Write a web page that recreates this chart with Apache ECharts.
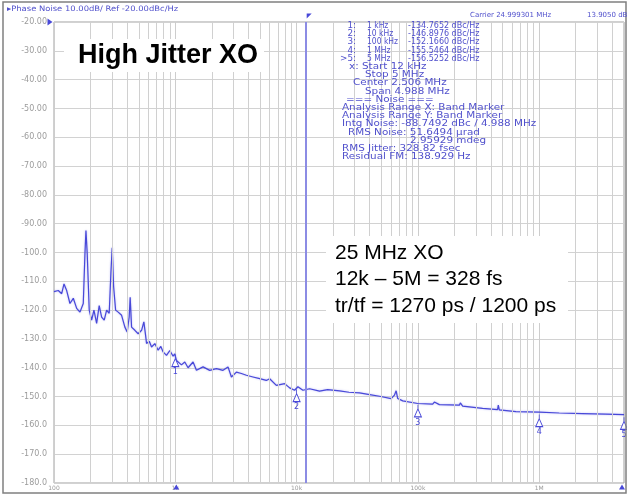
<!DOCTYPE html>
<html>
<head>
<meta charset="utf-8">
<script src="https://cdn.jsdelivr.net/npm/echarts@6/dist/echarts.min.js"></script>
<style>
html,body{margin:0;padding:0;background:#fff;}
#chart{width:627px;height:495px;}
</style>
</head>
<body>
<div id="chart"></div>
<script>
// ---- data ----
const freqHz = [100, 108.5, 115.7, 120.9, 127.2, 135.4, 144.2, 153.8, 163.7, 174.3,
  179.9, 183.4, 187.9, 195.2, 204.3, 213.4, 224.6, 235.9, 247, 259.4,
  271.5, 285.2, 294.5, 301.9, 310, 322, 338.2, 360.8, 384, 401.2,
  416.7, 424.6, 436, 464.2, 494.1, 527.2, 550.6, 568.6, 579.4, 610,
  637, 678.2, 721.9, 760, 793.6, 846.3, 901, 959, 990.6, 1023,
  1054, 1124, 1197, 1274, 1401, 1494, 1693, 1923, 2183, 2474,
  2720, 2901, 3190, 3506, 3855, 4369, 4961, 5630, 5996, 6808,
  7965, 8758, 9627, 10250, 11270, 12790, 15460, 18000, 22590, 27000,
  33000, 40000, 48220, 60180, 64060, 66150, 68190, 74980, 99630, 132400,
  136700, 150300, 219600, 223800, 233700, 341500, 453800, 459900, 468700, 643100,
  1000000, 1461000, 2272000, 3539000, 5000000];
const phaseNoise = [-113.6, -113.2, -114.3, -110.9, -113.2, -117.7, -115.9, -119.4, -120.7, -117.7,
  -100.4, -92.4, -100.4, -120.0, -123.5, -120.0, -124.6, -118.4, -122.4, -123.5,
  -120.0, -121.1, -107.0, -98.4, -111.8, -120.0, -120.7, -121.8, -125.9, -127.6,
  -122.4, -115.5, -125.9, -127.0, -128.2, -127.0, -124.1, -128.7, -131.6, -130.8,
  -132.8, -131.6, -133.9, -132.6, -134.5, -135.7, -134.0, -136.0, -135.2, -137.5,
  -138.0, -139.0, -138.0, -140.0, -138.0, -140.9, -139.7, -140.9, -140.3, -140.9,
  -139.7, -143.2, -141.5, -142.0, -142.6, -143.2, -143.8, -144.4, -143.8, -146.1,
  -145.5, -147.0, -147.8, -146.6, -147.8, -147.3, -148.1, -147.6, -148.0, -148.5,
  -148.7, -149.3, -149.9, -150.7, -149.5, -148.0, -150.7, -151.5, -152.4, -152.6,
  -151.9, -152.8, -153.0, -152.2, -153.3, -154.1, -154.5, -153.0, -154.6, -155.2,
  -155.4, -155.7, -155.9, -156.1, -156.3];

const markerFreq  = [1000, 10000, 100000, 1000000, 5000000];
const markerValue = [-134.7652, -146.8976, -152.1660, -155.5464, -156.5252];
const markerNames = ['1', '2', '3', '4', '5'];

const bandStartHz = 12000;

const xTickValues = [100, 1000, 10000, 100000, 1000000];
const xTickLabels = ['100', '1k', '10k', '100k', '1M'];
const minorMultipliers = [2, 3, 4, 5, 6, 7, 8, 9];

const yMin = -180, yMax = -20, yStep = 10;

const headerLeft  = '\u25B8Phase Noise 10.00dB/ Ref -20.00dBc/Hz';
const headerRight1 = 'Carrier 24.999301 MHz';
const headerRight2 = '13.9050 dBm\u25B8';

const titleText = 'High Jitter XO';
const noteLines = ['25 MHz XO', '12k \u2013 5M = 328 fs', 'tr/tf = 1270 ps / 1200 ps'];

const markerIds   = [' 1:', ' 2:', ' 3:', ' 4:', '>5:'];
const markerFreqText = ['1 kHz', '10 kHz', '100 kHz', '1 MHz', '5 MHz'];
const markerValText  = ['-134.7652 dBc/Hz', '-146.8976 dBc/Hz', '-152.1660 dBc/Hz', '-155.5464 dBc/Hz', '-156.5252 dBc/Hz'];
const infoLines = [
  [349, 'x: Start 12 kHz'],
  [365, 'Stop 5 MHz'],
  [353, 'Center 2.506 MHz'],
  [365, 'Span 4.988 MHz'],
  [346, '=== Noise ==='],
  [342, 'Analysis Range X: Band Marker'],
  [342, 'Analysis Range Y: Band Marker'],
  [342, 'Intg Noise: -88.7492 dBc / 4.988 MHz'],
  [348, 'RMS Noise: 51.6494 \u00B5rad'],
  [410, '2.95929 mdeg'],
  [342, 'RMS Jitter: 328.82 fsec'],
  [342, 'Residual FM: 138.929 Hz']
];

// ---- build ----
const BLUE = '#4848d8';
const TXTBLUE = '#5050cc';
const minorTicks = [];
for (let d = 100; d < 5000000; d *= 10) {
  minorMultipliers.forEach(m => { const v = d * m; if (v < 5000000) minorTicks.push(v); });
}

const chart = echarts.init(document.getElementById('chart'), null, {renderer: 'canvas'});

const graphics = [];
graphics.push({type: 'rect', shape: {x: 3, y: 2, width: 623, height: 491},
  style: {fill: 'none', stroke: '#808080', lineWidth: 1.5}, z: 100, silent: true});
graphics.push({type: 'text', x: 7, y: 9, scaleX: 1.12, style: {text: headerLeft, fontSize: 7.5, fontFamily: 'DejaVu Sans',
  fill: TXTBLUE, textVerticalAlign: 'middle'}, z: 100});
graphics.push({type: 'text', x: 470, y: 15, style: {text: headerRight1, fontSize: 7, fontFamily: 'DejaVu Sans',
  fill: TXTBLUE, textVerticalAlign: 'middle'}, z: 100});
graphics.push({type: 'text', x: 587, y: 15, style: {text: headerRight2, fontSize: 7, fontFamily: 'DejaVu Sans',
  fill: TXTBLUE, textVerticalAlign: 'middle'}, z: 100});

// white label boxes
graphics.push({type: 'rect', shape: {x: 64, y: 39, width: 200, height: 33}, style: {fill: '#ffffff'}, z: 100});
graphics.push({type: 'text', x: 78, y: 56, style: {text: titleText, fontSize: 27, fontWeight: 'bold',
  fontFamily: 'Liberation Sans, Arial', fill: '#000', textVerticalAlign: 'middle'}, z: 101});
graphics.push({type: 'rect', shape: {x: 326, y: 236, width: 242, height: 87}, style: {fill: '#ffffff'}, z: 100});
noteLines.forEach((t, i) => {
  graphics.push({type: 'text', x: 335, y: 253 + i * 26.5, style: {text: t, fontSize: 21,
    fontFamily: 'Liberation Sans, Arial', fill: '#000', textVerticalAlign: 'middle'}, z: 101});
});

// analyzer info text block
const lh = 8.2, y0 = 26;
const txtStyle = (t, align) => ({text: t, fontSize: 8, fontFamily: 'DejaVu Sans', fill: TXTBLUE,
  textVerticalAlign: 'middle', textAlign: align || 'left'});
markerIds.forEach((id, i) => {
  const y = y0 + i * lh;
  graphics.push({type: 'text', x: 356, y: y, scaleX: 1.1, style: txtStyle(id, 'right'), z: 100});
  graphics.push({type: 'text', x: 367, y: y, scaleX: 0.95, style: txtStyle(markerFreqText[i]), z: 100});
  graphics.push({type: 'text', x: 408, y: y, scaleX: 1.0, style: txtStyle(markerValText[i]), z: 100});
});
infoLines.forEach((ln, i) => {
  const y = y0 + (i + 5) * lh;
  graphics.push({type: 'text', x: ln[0], y: y, scaleX: 1.3, style: txtStyle(ln[1]), z: 100});
});

const seriesData = freqHz.map((f, i) => [f, phaseNoise[i]]);

const markerPath = 'path://M5,0 L5,4 M1,12 L5,4 L9,12 Z';
const markPoints = markerFreq.map((f, i) => ({
  coord: [f, markerValue[i]],
  symbol: markerPath, symbolSize: [7, 12], symbolOffset: [0, 8],
  itemStyle: {color: 'rgba(255,255,255,0.9)', borderColor: BLUE, borderWidth: 1},
  label: {show: true, position: 'bottom', distance: 1, formatter: markerNames[i],
    color: BLUE, fontSize: 8, fontFamily: 'DejaVu Sans'}
}));
// small instrument indicators
markPoints.push({coord: [100, yMax], symbol: 'path://M0,0 L10,5 L0,10 Z', symbolSize: [5, 7],
  symbolOffset: [-4, 0], itemStyle: {color: BLUE}, label: {show: false}});
markPoints.push({coord: [bandStartHz, yMax], symbol: 'path://M0,0 L10,0 L0,10 Z', symbolSize: [5, 5],
  symbolOffset: [3, -6], itemStyle: {color: BLUE}, label: {show: false}});
markPoints.push({coord: [1000, yMin], symbol: 'triangle', symbolSize: [6, 5],
  symbolOffset: [1, 4], itemStyle: {color: BLUE}, label: {show: false}});
markPoints.push({coord: [5000000, yMin], symbol: 'triangle', symbolSize: [6, 5],
  symbolOffset: [-2, 4], itemStyle: {color: BLUE}, label: {show: false}});

const option = {
  animation: false,
  backgroundColor: '#ffffff',
  grid: {left: 54, right: 2, top: 22, bottom: 12, show: true, borderColor: '#a0a0a0', borderWidth: 1,
    backgroundColor: '#ffffff'},
  xAxis: {
    type: 'log', logBase: 10, min: 100, max: 5000000,
    axisLine: {show: false}, axisTick: {show: false},
    splitLine: {show: true, lineStyle: {color: '#cdcdcd', width: 1}},
    axisLabel: {show: true, fontSize: 6, color: '#9a9a9a', margin: 2, fontFamily: 'DejaVu Sans',
      formatter: v => { const k = xTickValues.findIndex(t => Math.abs(Math.log10(t) - Math.log10(v)) < 1e-6); return k >= 0 ? xTickLabels[k] : ''; }}
  },
  yAxis: {
    type: 'value', min: yMin, max: yMax, interval: yStep,
    axisLine: {show: false}, axisTick: {show: false},
    splitLine: {show: true, lineStyle: {color: '#d2d2d2', width: 1}},
    axisLabel: {fontSize: 8, color: '#9c9c9c', margin: 7, fontFamily: 'DejaVu Sans',
      formatter: v => (v > -100 ? v.toFixed(2) : v.toFixed(1))}
  },
  graphic: graphics,
  series: [
    {
      name: 'grid', type: 'line', data: [], z: 1, silent: true,
      markLine: {
        silent: true, symbol: 'none', animation: false, label: {show: false},
        lineStyle: {color: '#d0d0d0', width: 1, type: 'solid'},
        data: minorTicks.map(v => ({xAxis: v}))
      }
    },
    {
      name: 'Phase Noise', type: 'line', data: seriesData, z: 3,
      showSymbol: false, symbol: 'none', smooth: false,
      lineStyle: {color: BLUE, width: 1.2, shadowColor: 'rgba(90,90,230,0.45)', shadowBlur: 2},
      markLine: {
        silent: true, symbol: 'none', label: {show: false},
        lineStyle: {color: '#8c8ce4', width: 2, type: 'solid'},
        data: [{xAxis: bandStartHz}]
      },
      markPoint: {silent: true, data: markPoints}
    }
  ]
};
chart.setOption(option);
</script>
</body>
</html>
